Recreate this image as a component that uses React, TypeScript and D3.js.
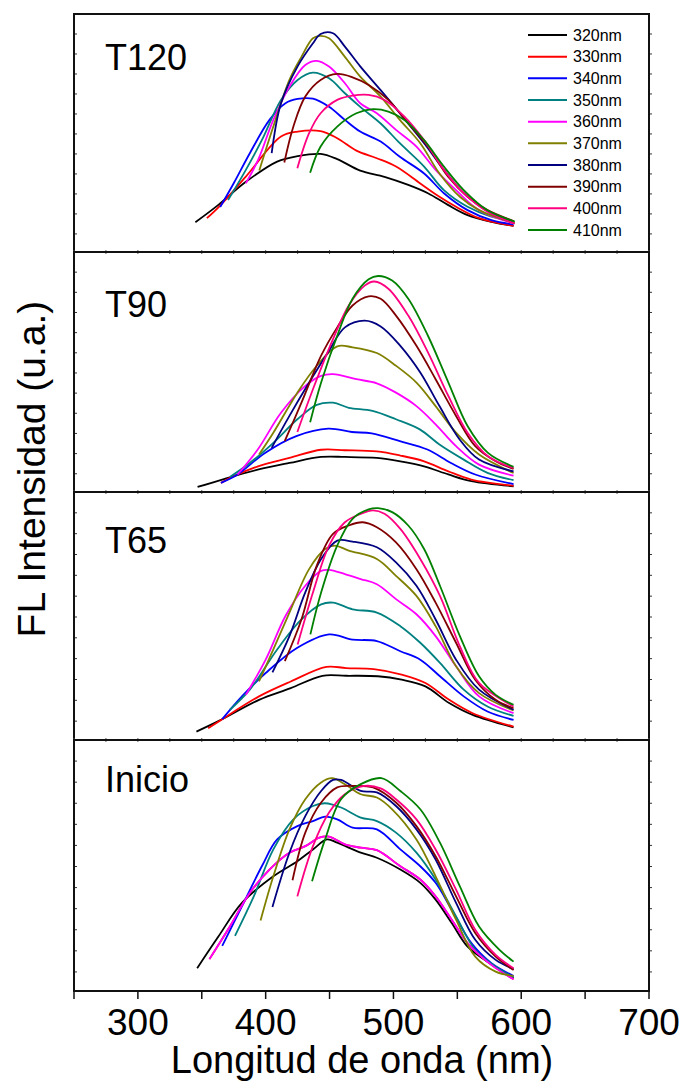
import React from "react";
import * as d3 from "d3";

// Excitation wavelengths (legend) and colours
const excitation = ["320nm", "330nm", "340nm", "350nm", "360nm", "370nm", "380nm", "390nm", "400nm", "410nm"];
const seriesColors = ["#000000", "#FF0000", "#0000FF", "#008080", "#FF00FF", "#808000", "#000080", "#800000", "#FF0080", "#008000"];

// x-axis ticks (nm)
const xMajorTicks = [300, 400, 500, 600, 700];
const xMinorTicks = [250, 350, 450, 550, 650];

// Panel names (top to bottom)
const panelNames = ["T120", "T90", "T65", "Inicio"];

type Pt = [number, number];

// Emission spectra, [wavelength nm, intensity u.a. (0-100 per panel)]
const T120: Pt[][] = [
  [[345,12.5],[363,19.8],[384.5,29.5],[409,38],[425,40.3],[443,41.2],[456,39],[474,34.2],[493,31.6],[511.6,28.2],[527,24.7],[542.6,19.8],[558,15.5],[576.7,12.7],[594,11]],
  [[354,14.2],[364,19.3],[384.5,31.7],[412,48.5],[425,50.6],[443,50.8],[456,47.8],[471,42.6],[487,39.4],[502,35.9],[521,28.8],[536,23.2],[549,19],[567,14.2],[594,11]],
  [[364.4,18.9],[375,28.9],[387.6,41.5],[403,55.5],[415.5,62.5],[425,64.3],[437,64.4],[449.6,61],[462,55.5],[474,50.6],[490,46.4],[505,40],[524,33],[539.5,24.7],[558,17.6],[576.7,13.4],[594,11.6]],
  [[370.6,21.8],[384.5,34.5],[397,47],[412,63.9],[425,72.3],[437,75.4],[449.6,73],[462,66.7],[474,61],[490,54],[505,45.7],[524,35.9],[539.5,26],[558,19],[576,15],[594,13]],
  [[384.5,28.9],[394,38.6],[406,55.5],[418.6,69.5],[431,78.6],[440,80.3],[449.6,77.9],[462,70.9],[474,62.5],[487,58.3],[502,51.3],[518,44.3],[533,34.5],[549,26],[567,17.6],[594,12]],
  [[395,34.2],[406,52.7],[418.6,72.3],[428,82],[437,89.8],[443,90.8],[449.6,89.8],[462,82],[474,73.7],[490,65.3],[505,55.5],[521,45.7],[536,33],[552,23.2],[567,17.6],[595,12]],
  [[404.7,41.5],[412,62.5],[425,78],[437,87.7],[443,91.6],[452.7,91.9],[462,86.3],[474,78],[490,68],[505,58.3],[524,45.7],[539.5,34.5],[555,24.7],[576.7,16.2],[594,12.5]],
  [[414.6,37.6],[421.7,52.7],[431,65.3],[443,72.3],[456,74.8],[468,73.4],[480.6,70.2],[496,63.9],[511.6,54],[527,44.3],[542.6,31.7],[558,23.2],[573.6,17.6],[594,13]],
  [[424.8,35.2],[434,49.9],[443,58.3],[456,63.9],[468,65.7],[480.6,66],[493,63.9],[508.6,56.9],[524,47],[539.5,34.5],[555,24.7],[573.6,16.9],[595,12]],
  [[434.8,33.3],[443,44.3],[456,52.7],[471,58.3],[484,60],[496,59],[508.6,55.5],[524,47],[539.5,35.9],[555,26],[573.6,17.5],[595,12.8]],
];

const T90: Pt[][] = [
  [[346.7,2.1],[366,5.2],[393.8,9.3],[418.6,12.1],[443.4,14.6],[462,14.6],[487,14.2],[505.4,12.8],[524,10.7],[543,7.3],[561,4.5],[594,2.4]],
  [[365,3.8],[375,6.6],[394,10.7],[418.6,14.2],[443.4,17.6],[462,17.4],[487,16.9],[505.4,15.2],[524,12.8],[543,8.6],[561,5.2],[594,2.6]],
  [[365,3.8],[378,7.3],[399.5,16.3],[424,23.3],[449,26.4],[467.5,25],[483,24.4],[505,21.2],[526.6,17.7],[545,12.1],[564,7.3],[594,3.3]],
  [[372,6.3],[387.6,12.1],[406,20.5],[424.8,30.3],[440,36.3],[452.7,37.2],[465,35.1],[483.6,33.8],[502,30.3],[520.6,26.1],[536,19.8],[555,13.5],[573.6,8],[594,4.9]],
  [[378,7.3],[393.8,17.7],[412,33],[431,44.2],[443.4,48.4],[452.7,49.1],[471,47],[487,45.3],[502,41.4],[518,35.8],[533,28.2],[549,19.1],[567,11.4],[594,6.8]],
  [[394.8,15.6],[406,24.7],[424.8,41.4],[440,52.6],[456,60.7],[468,60.3],[487,57.9],[502,52.6],[518,45.6],[533,35.8],[549,24.7],[567,15.6],[594,7.9]],
  [[404.7,18.4],[418.6,31.7],[434,45.6],[449.6,58.9],[462,68.6],[477.5,71.4],[490,69],[505.4,60.9],[521,49.8],[536,35.8],[551.8,21.9],[567,13.5],[594,8.6]],
  [[414.9,21.2],[428,37.2],[443.4,56.8],[456,68.6],[468,77.7],[480.6,81.5],[490,80.5],[502,73.5],[518,60.9],[533,47],[549,31.7],[564,19.1],[580,12.8],[594,9.6]],
  [[424.8,25],[437,42.8],[452.7,63.7],[465,77.7],[477.5,86],[485,87.7],[496,84.7],[511.6,73.5],[527,58.2],[543,40],[558,24.7],[574,14.9],[594,10]],
  [[434.8,29.1],[443.4,45.6],[456,65.1],[468,80.5],[480.6,88.6],[488,90],[499,88.1],[511.6,80.5],[527,65.1],[543,45.6],[558,27.5],[574,16.3],[594,10.5]],
];

const T65: Pt[][] = [
  [[345.8,3.4],[363.8,7.8],[394.8,16.2],[419.6,20.9],[444.4,25.9],[463,25.9],[487.8,25.7],[506.4,24.3],[525,21.6],[543.6,14.9],[562,10.1],[594,5.1]],
  [[355,4.7],[366,8.4],[394.8,17.6],[419.6,23.6],[447.5,29.5],[463,29],[484.6,28.6],[506.4,26.4],[525,23],[543.6,16.2],[562,10.8],[594,5.4]],
  [[366,8.4],[381.4,17.6],[400,27],[424.8,37.2],[449.6,42.6],[468,40.5],[487,39.9],[505.4,35.8],[521,32.4],[536.4,25.7],[555,17.6],[573.6,11.5],[594,8.1]],
  [[372,12.2],[387.6,20.3],[409,36.5],[428,48.6],[443.4,54.7],[452.7,55.4],[468,52.7],[487,51.4],[505.4,45.9],[521,39.2],[536.4,31.1],[555,20.3],[573.6,13.5],[594,9.7]],
  [[384.5,18.2],[400,32.4],[415.5,50],[431,62.2],[443.4,68.2],[449.6,68.6],[462,66.9],[474.4,64.9],[487,62.8],[502,56.8],[518,50.7],[533,41.9],[549,29.7],[567,17.6],[594,10.8]],
  [[394.8,23.6],[406,36.5],[418.6,51.4],[434,68.9],[446.5,77],[454,78.4],[465,76.4],[487,73],[502,66.2],[518,58.1],[533,45.9],[549,29.7],[567,18.9],[594,11.9]],
  [[405.3,27.3],[418.6,41.9],[431,59.5],[443.4,73],[456,80.4],[468,80],[487,77.7],[502,71.6],[518,62.2],[533,48.6],[549,32.4],[567,20.3],[594,12.2]],
  [[415,31.8],[428,48.6],[440,70.3],[452.7,83.1],[465,86.5],[476,87.8],[487,85.8],[502,79.7],[518,68.9],[533,55.4],[549,39.2],[564,24.3],[580,16.2],[594,12.8]],
  [[425,38.5],[437,59.5],[449.6,78.4],[462,87.8],[474.4,91.2],[484,92.6],[493,91.2],[505.4,85.1],[521,73],[536.4,58.1],[552,37.8],[567,23],[594,13.5]],
  [[435,42.6],[443.4,59.5],[456,78.4],[468,89.2],[480.6,93],[488,93.5],[499,91.9],[511.6,86.5],[524,77],[536.4,62.2],[552,41.9],[567,25.7],[580,18.2],[594,14.2]],
];

const Inicio: Pt[][] = [
  [[346.4,9.1],[363,21.7],[381.4,35.1],[406,45.7],[424.8,51.7],[437,56.4],[448,60.4],[456,59.1],[474.4,55.1],[487,53.1],[505.4,48.4],[521,43.1],[533,36.4],[545.6,27.1],[558,17.7],[573.6,11.7],[594,5.3]],
  [[356,12.7],[372,25.7],[387.6,39.1],[403,48.4],[418.6,55.1],[431,57.7],[442,61.1],[449.6,61.5],[462,58.4],[474.4,57.1],[487,56.1],[505.4,49.7],[521,44.4],[533,37.7],[545.6,28.4],[558,19.1],[576.7,10.4],[594,4.7]],
  [[366,18],[381.4,33.7],[397,49.7],[409,60.4],[424.8,65.7],[437,67.7],[446.5,69.5],[456,68.4],[468,65.1],[487,64.4],[505.4,56.4],[521,49.7],[533,43.1],[545.6,32.4],[561,19.1],[576.7,11.1],[594,6]],
  [[376,22],[390.7,37.7],[406,56.4],[421.7,68.4],[437,73.7],[446.5,74.8],[459,73.1],[474.4,69.1],[487,67.7],[502,63.1],[518,55.1],[533,44.4],[549,29.7],[564,16.4],[580,9.7],[594,5.5]],
  [[356,12.7],[372,25.7],[387.6,39.1],[403,48.4],[418.6,55.1],[431,57.7],[442,61.1],[449.6,61.5],[462,58.4],[474.4,57.1],[487,56.1],[505.4,49.7],[521,44.4],[533,37.7],[545.6,28.4],[558,19.1],[576.7,10.4],[594,4.7]],
  [[396,28.1],[406,45.7],[418.6,64.4],[431,76.4],[443.4,83.1],[452,84.8],[462,82.4],[474.4,78.4],[487,77.1],[499,72.4],[518,60.4],[533,45.7],[549,28.4],[564,13.7],[580,7.7],[594,6]],
  [[405.3,33.5],[418.6,55.1],[431,69.7],[443.4,79.7],[452.7,84.1],[459,84.1],[474.4,79.7],[487,79.1],[502,73.7],[518,64.4],[533,52.4],[549,35.1],[564,20.4],[580,12.4],[594,8.7]],
  [[421,44.1],[431,63.1],[443.4,75.1],[456,81.1],[468,81.7],[484,81.1],[502,75.1],[518,65.7],[533,53.7],[549,37.7],[564,23.1],[580,13.7],[594,8.4]],
  [[424.8,37.7],[437,57.7],[449.6,71.1],[462,78.4],[477.5,81.7],[490,80.7],[502,76.4],[518,68.4],[533,56.4],[549,40.4],[564,24.4],[580,14.4],[594,9.1]],
  [[436.3,43.7],[446.5,60.4],[459,76.4],[474.4,82.4],[490.6,84.8],[505.4,79.7],[521,72.4],[536.4,59.1],[552,41.7],[567,25.7],[583,16.4],[594,11.7]],
];

const panelData = [T120, T90, T65, Inicio];

const FONT = "'Liberation Sans', Arial, Helvetica, sans-serif";
const W = 681;
const H = 1082;
const LEFT = 74;
const RIGHT = 649;
// panel pixel extents (top, bottom) and label baselines
const panelBox = [
  { top: 14, bottom: 252, labelY: 70 },
  { top: 252, bottom: 492, labelY: 317 },
  { top: 492, bottom: 740, labelY: 553 },
  { top: 740, bottom: 991, labelY: 792 },
];

export default function App() {
  const x = d3.scaleLinear().domain([250, 700]).range([LEFT, RIGHT]);
  const xQuarter = d3.range(250, 701, 25);
  const axisY = panelBox[3].bottom;

  return (
    <svg
      width={W}
      height={H}
      viewBox={`0 0 ${W} ${H}`}
      style={{ position: "absolute", left: 0, top: 0, background: "#fff" }}
      fontFamily={FONT}
    >
      <rect x={0} y={0} width={W} height={H} fill="#fff" />
      {panelData.map((series, pi) => {
        const box = panelBox[pi];
        const y = d3.scaleLinear().domain([0, 100]).range([box.bottom, box.top]);
        const line = d3
          .line<Pt>()
          .x((d) => x(d[0]))
          .y((d) => y(d[1]))
          .curve(d3.curveCatmullRom.alpha(0.5));
        const yTicks = d3.range(7.6, 100, 8.4);
        return (
          <g key={pi}>
            {series.map((s, si) => (
              <path
                key={si}
                d={line(s) || ""}
                fill="none"
                stroke={seriesColors[si]}
                strokeWidth={1.8}
                strokeLinejoin="round"
                strokeLinecap="butt"
              />
            ))}
            {yTicks.map((t, i) => (
              <g key={i}>
                <line x1={LEFT} x2={LEFT + 3} y1={y(t)} y2={y(t)} stroke="#333" strokeWidth={1} />
                <line x1={RIGHT} x2={RIGHT + 3} y1={y(t)} y2={y(t)} stroke="#333" strokeWidth={1} />
              </g>
            ))}
            {pi > 0 &&
              xQuarter.map((t, i) => (
                <line key={i} x1={x(t)} x2={x(t)} y1={box.top - 2} y2={box.top + 2} stroke="#555" strokeWidth={1} />
              ))}
            <rect
              x={LEFT}
              y={box.top}
              width={RIGHT - LEFT}
              height={box.bottom - box.top}
              fill="none"
              stroke="#111"
              strokeWidth={2}
            />
            <text x={105} y={box.labelY} fontSize={36} fill="#000">
              {panelNames[pi]}
            </text>
          </g>
        );
      })}

      {/* legend */}
      {excitation.map((name, i) => {
        const ly = 35 + i * 21.67;
        return (
          <g key={name}>
            <line x1={528} x2={567} y1={ly} y2={ly} stroke={seriesColors[i]} strokeWidth={2} />
            <text x={573} y={ly + 5.5} fontSize={16} fill="#000">
              {name}
            </text>
          </g>
        );
      })}

      {/* bottom x axis */}
      {[...xMajorTicks, ...xMinorTicks].map((t) => (
        <line key={t} x1={x(t)} x2={x(t)} y1={axisY} y2={axisY + 8} stroke="#111" strokeWidth={1.5} />
      ))}
      {xMajorTicks.map((t) => (
        <text key={t} x={x(t)} y={1035} fontSize={37} textAnchor="middle" fill="#000">
          {t}
        </text>
      ))}
      <text x={362} y={1073} fontSize={38} textAnchor="middle" fill="#000">
        Longitud de onda (nm)
      </text>
      <text transform="translate(45,469) rotate(-90)" fontSize={39} textAnchor="middle" fill="#000">
        FL Intensidad (u.a.)
      </text>
    </svg>
  );
}
